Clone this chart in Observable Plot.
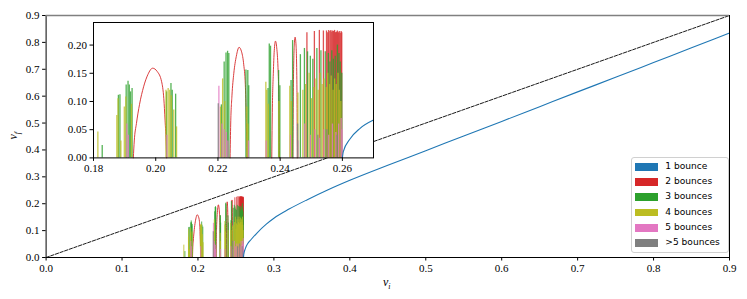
<!DOCTYPE html>
<html><head><meta charset="utf-8">
<script src="https://cdn.jsdelivr.net/npm/d3@7"></script>
<script src="https://cdn.jsdelivr.net/npm/@observablehq/plot@0.6"></script>
<style>
body{margin:0;background:#fff;}
#wrap{position:relative;width:747px;height:299px;overflow:hidden;}
#wrap svg{position:absolute;overflow:visible;}
#wrap svg, #wrap svg text{font-family:"Liberation Serif","DejaVu Serif",serif !important;font-size:11px !important;}
.lab{position:absolute;font-family:"Liberation Serif","DejaVu Serif",serif;font-style:italic;font-size:12px;line-height:1;white-space:nowrap;}
.lab sub{font-size:8px;}
#legend{position:absolute;left:630.7px;top:157.3px;width:96.6px;height:93.4px;border:1px solid #d0d0d0;border-radius:3px;background:rgba(255,255,255,0.85);font-family:"DejaVu Sans",sans-serif;font-size:9.1px;color:#000;}
#legend .sw{position:absolute;left:3.6px;width:22.4px;height:7.8px;}
#legend .tx{position:absolute;left:33.6px;white-space:nowrap;line-height:1;}
</style></head><body><div id="wrap"></div>
<script>
// ---- data ----
const colors = {"1":"#1f77b4","2":"#d62728","3":"#2ca02c","4":"#bcbd22","5":"#e377c2","6":"#7f7f7f"};
const legendLabels = ["1 bounce","2 bounces","3 bounces","4 bounces","5 bounces",">5 bounces"];
const mainTicks = [0,0.1,0.2,0.3,0.4,0.5,0.6,0.7,0.8,0.9];
const insetXTicks = [0.18,0.20,0.22,0.24,0.26];
const insetYTicks = [0,0.05,0.10,0.15,0.20];
const diagVi = [0,0.9];
const diagVf = [0,0.9];

// 1 bounce curve
const blueVi = [0.26,0.2603,0.2625,0.2656,0.27,0.278,0.29,0.30,0.32,0.344,0.37,0.40,0.45,0.50,0.55,0.60,0.65,0.70,0.75,0.80,0.85,0.90];
const blueVf = [0,0.011,0.034,0.052,0.067,0.092,0.124,0.146,0.18,0.215,0.25,0.287,0.343,0.397,0.452,0.506,0.561,0.616,0.67,0.725,0.78,0.835];

// 2 bounces: wide arches
const redArches = [
  [[0.1928,0],[0.1931,0.03],[0.1938,0.061],[0.1948,0.095],[0.1961,0.126],[0.1975,0.148],[0.199,0.159],[0.2005,0.153],[0.2019,0.135],[0.2026,0.105],[0.203,0.067],[0.2034,0.02],[0.2035,0]],
  [[0.2239,0],[0.2241,0.06],[0.2245,0.11],[0.2251,0.15],[0.2259,0.18],[0.2268,0.196],[0.2276,0.188],[0.2283,0.165],[0.2288,0.13],[0.2291,0.07],[0.2293,0]],
  [[0.2373,0],[0.2375,0.09],[0.2378,0.15],[0.2381,0.19],[0.2385,0.207],[0.2389,0.195],[0.2393,0.16],[0.2396,0.1],[0.2398,0]],
  [[0.2441,0],[0.2443,0.15],[0.2446,0.205],[0.2448,0.214],[0.2451,0.2],[0.2454,0.12],[0.2455,0]]
];
// 2 bounces: narrow spikes
const redVi = [0.2486,0.2510,0.2526,0.2539,0.2549,0.2553,0.2556,0.2560,0.2563,0.2566,0.2569,0.2572,0.2575,0.2578,0.2581,0.2584,0.2587,0.2590,0.2593,0.2596,0.2598];
const redVf = [0.222,0.224,0.226,0.225,0.225,0.222,0.226,0.224,0.226,0.223,0.225,0.224,0.226,0.222,0.223,0.225,0.222,0.224,0.221,0.224,0.222];
// 3 bounces
const greenVi = [0.1828,0.1880,0.1885,0.1905,0.1911,0.1915,0.1919,0.1924,0.2035,0.2049,0.2053,0.2064,0.2211,0.2220,0.2226,0.2231,0.2235,0.2290,0.2296,0.2299,0.2361,0.2365,0.2369,0.2395,0.2399,0.2435,0.2440,0.2465,0.2478,0.2488,0.2497,0.2505,0.2518,0.2531,0.2545,0.2555,0.2560,0.2566,0.2571,0.2577,0.2584,0.2589,0.2593,0.2598];
const greenVf = [0.022,0.111,0.112,0.129,0.136,0.129,0.117,0.123,0.117,0.132,0.12,0.113,0.094,0.17,0.186,0.189,0.185,0.156,0.155,0.128,0.123,0.202,0.198,0.155,0.128,0.137,0.208,0.183,0.194,0.188,0.18,0.175,0.194,0.19,0.188,0.185,0.17,0.19,0.175,0.18,0.2,0.185,0.17,0.15];
// 4 bounces
const yellowVi = [0.1814,0.1875,0.1879,0.1888,0.1899,0.1904,0.1922,0.2033,0.2040,0.2045,0.2050,0.2058,0.2067,0.2208,0.2215,0.2222,0.2293,0.2296,0.2354,0.2357,0.2362,0.2396,0.2431,0.2436,0.2457,0.2473,0.2482,0.2493,0.2501,0.2508,0.2515,0.2522,0.2528,0.2535,0.2541,0.2548,0.2553,0.2559,0.2564,0.2570,0.2575,0.2580,0.2586,0.2590,0.2595];
const yellowVf = [0.046,0.075,0.105,0.03,0.09,0.108,0.095,0.12,0.123,0.12,0.11,0.085,0.055,0.09,0.14,0.1,0.09,0.06,0.134,0.12,0.095,0.1,0.127,0.1,0.115,0.12,0.13,0.15,0.105,0.125,0.14,0.12,0.15,0.13,0.14,0.125,0.15,0.13,0.145,0.12,0.14,0.13,0.15,0.12,0.1];
// 5 bounces
const pinkVi = [0.1907,0.1912,0.2036,0.2203,0.2213,0.2220,0.2227,0.2232,0.2298,0.2355,0.2433,0.2457,0.2479,0.2497,0.2512,0.2527,0.2541,0.2556,0.2568,0.2579,0.2588,0.2596,0.2599];
const pinkVf = [0.06,0.04,0.04,0.127,0.06,0.05,0.045,0.03,0.03,0.03,0.04,0.03,0.06,0.04,0.05,0.035,0.05,0.04,0.06,0.045,0.06,0.07,0.05];
// >5 bounces
const grayVi = [0.2201,0.2456,0.2521,0.2550,0.2583];
const grayVf = [0.096,0.06,0.04,0.05,0.04];

// ---- tables ----
const zip = (a,b) => a.map((v,i)=>({vi:v, vf:b[i]}));
const diag = zip(diagVi, diagVf);
const blue = zip(blueVi, blueVf);
const arches = redArches.flatMap((a,k)=>a.map(([vi,vf])=>({vi,vf,k})));
const spikeSets = [
  [zip(redVi,redVf), colors["2"]],
  [zip(greenVi,greenVf), colors["3"]],
  [zip(yellowVi,yellowVf), colors["4"]],
  [zip(pinkVi,pinkVf), colors["5"]],
  [zip(grayVi,grayVf), colors["6"]]
];

function bounceMarks(sw){
  const m = [Plot.line(arches, {x:"vi", y:"vf", z:"k", stroke:colors["2"], strokeWidth:1, strokeOpacity:0.9, curve:"monotone-x"})];
  for (const [d,c] of spikeSets) {
    m.push(Plot.ruleX(d, {x:"vi", y1:0, y2:"vf", stroke:c, strokeWidth:sw, strokeOpacity:0.8}));
  }
  return m;
}

const wrap = document.getElementById("wrap");
const fmt1 = d3.format(".1f"), fmt2 = d3.format(".2f");
const style = {fontFamily:"Liberation Serif, serif", fontSize:"11px", background:"transparent", overflow:"visible", color:"#000"};

const main = Plot.plot({
  width:747, height:299,
  marginLeft:45.6, marginRight:18, marginTop:15, marginBottom:42,
  x:{domain:[0,0.9]}, y:{domain:[0,0.9]},
  style,
  marks:[
    Plot.line(diag, {x:"vi", y:"vf", stroke:"#000", strokeWidth:0.9, strokeDasharray:"3.4,1.5"}),
    ...bounceMarks(1),
    Plot.line(blue, {x:"vi", y:"vf", stroke:colors["1"], strokeWidth:1.1, curve:"monotone-x"}),
    Plot.axisX({ticks:mainTicks, tickFormat:fmt1, tickSize:3.5, tickPadding:3, label:null}),
    Plot.axisY({ticks:mainTicks, tickFormat:fmt1, tickSize:3.5, tickPadding:3, label:null}),
    Plot.frame({stroke:"#000", strokeWidth:1}),
    Plot.ruleY([0.9], {stroke:"#808080", strokeWidth:1.6})
  ]
});
main.style.left = "0px"; main.style.top = "0px";
wrap.appendChild(main);

const iL = 40, iT = 2, iR = 2, iB = 20;
const inset = Plot.plot({
  width: 280 + iL + iR, height: 135.4 + iT + iB,
  marginLeft:iL, marginRight:iR, marginTop:iT, marginBottom:iB,
  x:{domain:[0.18,0.27]}, y:{domain:[0,0.24]},
  style,
  marks:[
    Plot.frame({fill:"#fff", stroke:"none"}),
    ...bounceMarks(1.3),
    Plot.line(blue.filter(d=>d.vi<=0.27), {x:"vi", y:"vf", stroke:colors["1"], strokeWidth:1.1, curve:"monotone-x"}),
    Plot.axisX({ticks:insetXTicks, tickFormat:fmt2, tickSize:3.5, tickPadding:3, label:null}),
    Plot.axisY({ticks:insetYTicks, tickFormat:fmt2, tickSize:3.5, tickPadding:3, label:null}),
    Plot.frame({stroke:"#000", strokeWidth:1})
  ]
});
inset.style.left = (93.3 - iL) + "px"; inset.style.top = (22.3 - iT) + "px";
wrap.appendChild(inset);

// axis labels
const xl = document.createElement("div");
xl.className = "lab"; xl.innerHTML = "v<sub>i</sub>";
xl.style.left = "383px"; xl.style.top = "276px";
wrap.appendChild(xl);
const yl = document.createElement("div");
yl.className = "lab"; yl.innerHTML = "v<sub>f</sub>";
yl.style.left = "11px"; yl.style.top = "128px"; yl.style.transform = "rotate(-90deg)";
wrap.appendChild(yl);

// legend
const lg = document.createElement("div");
lg.id = "legend";
legendLabels.forEach((t,i)=>{
  const cy = 8.4 + i*15.3;
  const sw = document.createElement("div");
  sw.className = "sw"; sw.style.top = (cy - 3.9) + "px"; sw.style.background = colors[String(i+1)];
  const tx = document.createElement("div");
  tx.className = "tx"; tx.style.top = (cy - 5) + "px"; tx.textContent = t;
  lg.appendChild(sw); lg.appendChild(tx);
});
wrap.appendChild(lg);
</script>
</body></html>
